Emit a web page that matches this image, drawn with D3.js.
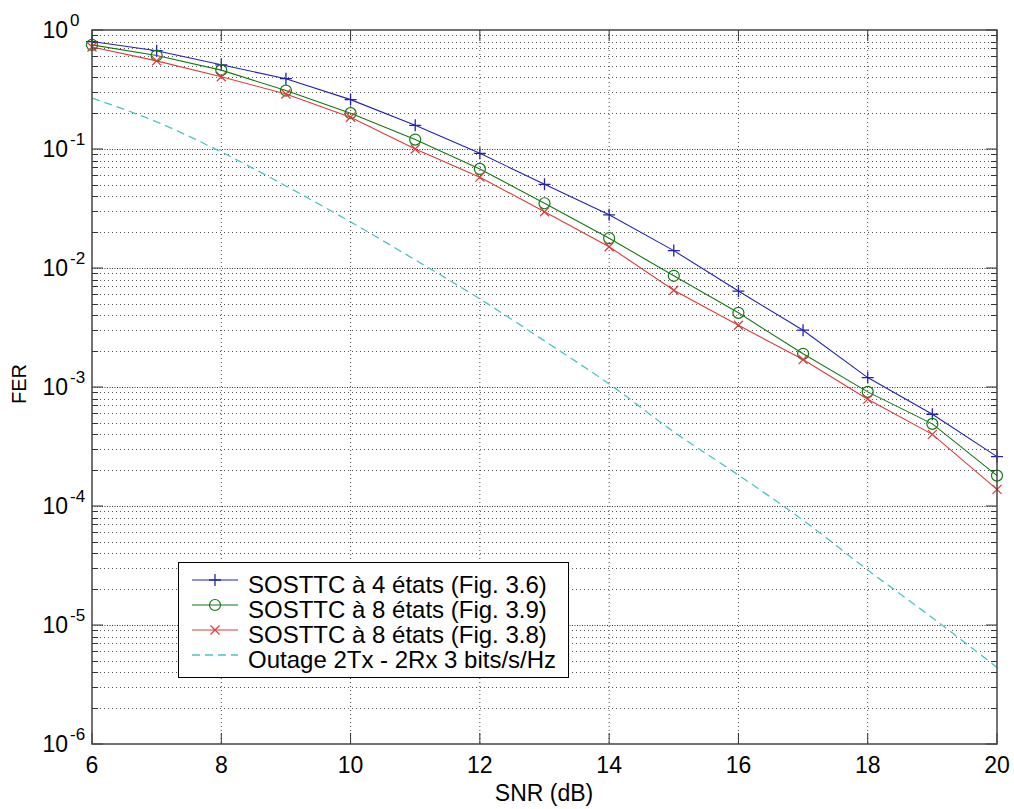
<!DOCTYPE html>
<html>
<head>
<meta charset="utf-8">
<script src="https://cdn.jsdelivr.net/npm/d3@7"></script>
<style>
  body { margin: 0; background: #fff; }
  text { font-family: Arial, "Liberation Sans", sans-serif; fill: #000; }
</style>
</head>
<body>
<svg id="chart" width="1014" height="809"></svg>
<script>
// SNR points (dB)
const snr = [6, 7, 8, 9, 10, 11, 12, 13, 14, 15, 16, 17, 18, 19, 20];
// Frame error rates
const fer4states = [0.80, 0.67, 0.51, 0.39, 0.26, 0.158, 0.092, 0.0505, 0.028, 0.014, 0.0064, 0.0030, 0.0012, 0.00059, 0.00026];
const fer8statesFig39 = [0.75, 0.61, 0.46, 0.31, 0.20, 0.12, 0.068, 0.035, 0.0178, 0.0086, 0.0042, 0.0019, 0.00091, 0.00049, 0.00018];
const fer8statesFig38 = [0.72, 0.55, 0.405, 0.29, 0.185, 0.10, 0.058, 0.0297, 0.0151, 0.0065, 0.0033, 0.0017, 0.00079, 0.00040, 0.000138];
const outage = [0.268, 0.169, 0.0944, 0.0489, 0.0244, 0.0117, 0.0055, 0.00244, 0.00106, 0.00042, 0.000182, 0.000076, 0.000029, 0.0000115, 0.0000044];

const seriesLabels = [
  "SOSTTC à 4 états (Fig. 3.6)",
  "SOSTTC à 8 états (Fig. 3.9)",
  "SOSTTC à 8 états (Fig. 3.8)",
  "Outage 2Tx - 2Rx 3 bits/s/Hz"
];
const xTicks = [6, 8, 10, 12, 14, 16, 18, 20];
const yExponents = [0, -1, -2, -3, -4, -5, -6];
const xLabel = "SNR (dB)";
const yLabel = "FER";

const svg = d3.select("#chart");
const L = 92, R = 997, T = 30, B = 744;

const x = d3.scaleLinear().domain([6, 20]).range([L, R]);
const y = d3.scaleLog().domain([1e-6, 1]).range([B, T]);

// ---- grid ----
const grid = svg.append("g").attr("fill", "none");
// vertical grid at interior x ticks
grid.selectAll("line.vx")
  .data(xTicks.filter(v => v > 6 && v < 20))
  .join("line")
  .attr("x1", d => x(d)).attr("x2", d => x(d))
  .attr("y1", T).attr("y2", B)
  .attr("stroke", "#444").attr("stroke-width", 1)
  .attr("stroke-dasharray", "1,3");

// minor horizontal grid (2..9 in each decade)
const minorVals = [];
for (let e = -6; e < 0; e++) for (let m = 2; m <= 9; m++) minorVals.push(m * Math.pow(10, e));
grid.selectAll("line.hm")
  .data(minorVals)
  .join("line")
  .attr("x1", L).attr("x2", R)
  .attr("y1", d => Math.round(y(d)) + 0.5).attr("y2", d => Math.round(y(d)) + 0.5)
  .attr("stroke", "#555").attr("stroke-width", 1)
  .attr("stroke-dasharray", "1,3");

// decade grid lines (denser dots)
grid.selectAll("line.hd")
  .data(yExponents.filter(e => e < 0 && e > -6))
  .join("line")
  .attr("x1", L).attr("x2", R)
  .attr("y1", d => Math.round(y(Math.pow(10, d))) + 0.5).attr("y2", d => Math.round(y(Math.pow(10, d))) + 0.5)
  .attr("stroke", "#333").attr("stroke-width", 1)
  .attr("stroke-dasharray", "1,1.5");

// ---- ticks (inside, on all four sides) ----
const tickG = svg.append("g").attr("stroke", "#333").attr("stroke-width", 1);
xTicks.forEach(v => {
  tickG.append("line").attr("x1", x(v)).attr("x2", x(v)).attr("y1", B).attr("y2", B - 11);
  tickG.append("line").attr("x1", x(v)).attr("x2", x(v)).attr("y1", T).attr("y2", T + 11);
});
yExponents.forEach(e => {
  const yy = y(Math.pow(10, e));
  tickG.append("line").attr("x1", L).attr("x2", L + 11).attr("y1", yy).attr("y2", yy);
  tickG.append("line").attr("x1", R).attr("x2", R - 11).attr("y1", yy).attr("y2", yy);
});
minorVals.forEach(v => {
  const yy = Math.round(y(v)) + 0.5;
  tickG.append("line").attr("x1", L).attr("x2", L + 6).attr("y1", yy).attr("y2", yy);
  tickG.append("line").attr("x1", R).attr("x2", R - 6).attr("y1", yy).attr("y2", yy);
});

// ---- series ----
const line = d3.line().x(d => x(d[0])).y(d => y(d[1]));
const zip = vals => snr.map((s, i) => [s, vals[i]]);

const series = [
  { vals: fer4states, color: "#2222b4", marker: "plus", dash: null },
  { vals: fer8statesFig39, color: "#117a11", marker: "circle", dash: null },
  { vals: fer8statesFig38, color: "#dd3a3a", marker: "cross", dash: null },
  { vals: outage, color: "#4cc4c4", marker: null, dash: "8,5" }
];

function drawMarker(g, type, color) {
  if (type === "plus") {
    g.append("path").attr("d", "M-6,0H6M0,-6V6").attr("stroke", color).attr("stroke-width", 1.3).attr("fill", "none");
  } else if (type === "circle") {
    g.append("circle").attr("r", 5.5).attr("stroke", color).attr("stroke-width", 1.2).attr("fill", "none");
  } else if (type === "cross") {
    g.append("path").attr("d", "M-4.5,-4.5L4.5,4.5M-4.5,4.5L4.5,-4.5").attr("stroke", color).attr("stroke-width", 1.2).attr("fill", "none");
  }
}

const plot = svg.append("g");
series.forEach(s => {
  const data = zip(s.vals);
  plot.append("path")
    .datum(data)
    .attr("d", s.dash ? line.curve(d3.curveMonotoneX)(data) : line.curve(d3.curveLinear)(data))
    .attr("fill", "none")
    .attr("stroke", s.color)
    .attr("stroke-width", s.dash ? 1.3 : 1.1)
    .attr("stroke-dasharray", s.dash);
  if (s.marker) {
    data.forEach(d => {
      const g = plot.append("g").attr("transform", `translate(${x(d[0])},${y(d[1])})`);
      drawMarker(g, s.marker, s.color);
    });
  }
});

// ---- frame ----
svg.append("rect")
  .attr("x", L).attr("y", T).attr("width", R - L).attr("height", B - T)
  .attr("fill", "none").attr("stroke", "#444").attr("stroke-width", 1.5);

// ---- tick labels ----
svg.append("g").selectAll("text")
  .data(xTicks)
  .join("text")
  .attr("x", d => x(d)).attr("y", 773)
  .attr("text-anchor", "middle")
  .attr("font-size", 23)
  .text(d => d);

const yl = svg.append("g");
yExponents.forEach(e => {
  const yy = y(Math.pow(10, e));
  yl.append("text").attr("x", 68).attr("y", yy + 8.3).attr("text-anchor", "end").attr("font-size", 23).text("10");
  yl.append("text").attr("x", 70).attr("y", yy - 4).attr("text-anchor", "start").attr("font-size", 17).text(e);
});

// ---- axis titles ----
svg.append("text")
  .attr("x", 544).attr("y", 801)
  .attr("text-anchor", "middle").attr("font-size", 23)
  .text(xLabel);
svg.append("text")
  .attr("transform", "translate(25.5,384) rotate(-90)")
  .attr("text-anchor", "middle").attr("font-size", 20)
  .text(yLabel);

// ---- legend ----
const lg = svg.append("g");
lg.append("rect")
  .attr("x", 178.5).attr("y", 562.5).attr("width", 390).attr("height", 115)
  .attr("fill", "#fff").attr("stroke", "#000").attr("stroke-width", 1);
series.forEach((s, i) => {
  const base = 593 + i * 25;
  const cy = base - 13;
  lg.append("line")
    .attr("x1", 192).attr("x2", 238).attr("y1", cy).attr("y2", cy)
    .attr("stroke", s.color).attr("stroke-width", s.dash ? 1.3 : 1.1)
    .attr("stroke-dasharray", s.dash);
  if (s.marker) {
    const g = lg.append("g").attr("transform", `translate(215,${cy})`);
    drawMarker(g, s.marker, s.color);
  }
  lg.append("text").attr("x", 248).attr("y", base).attr("font-size", 24).text(seriesLabels[i]);
});
</script>
</body>
</html>
